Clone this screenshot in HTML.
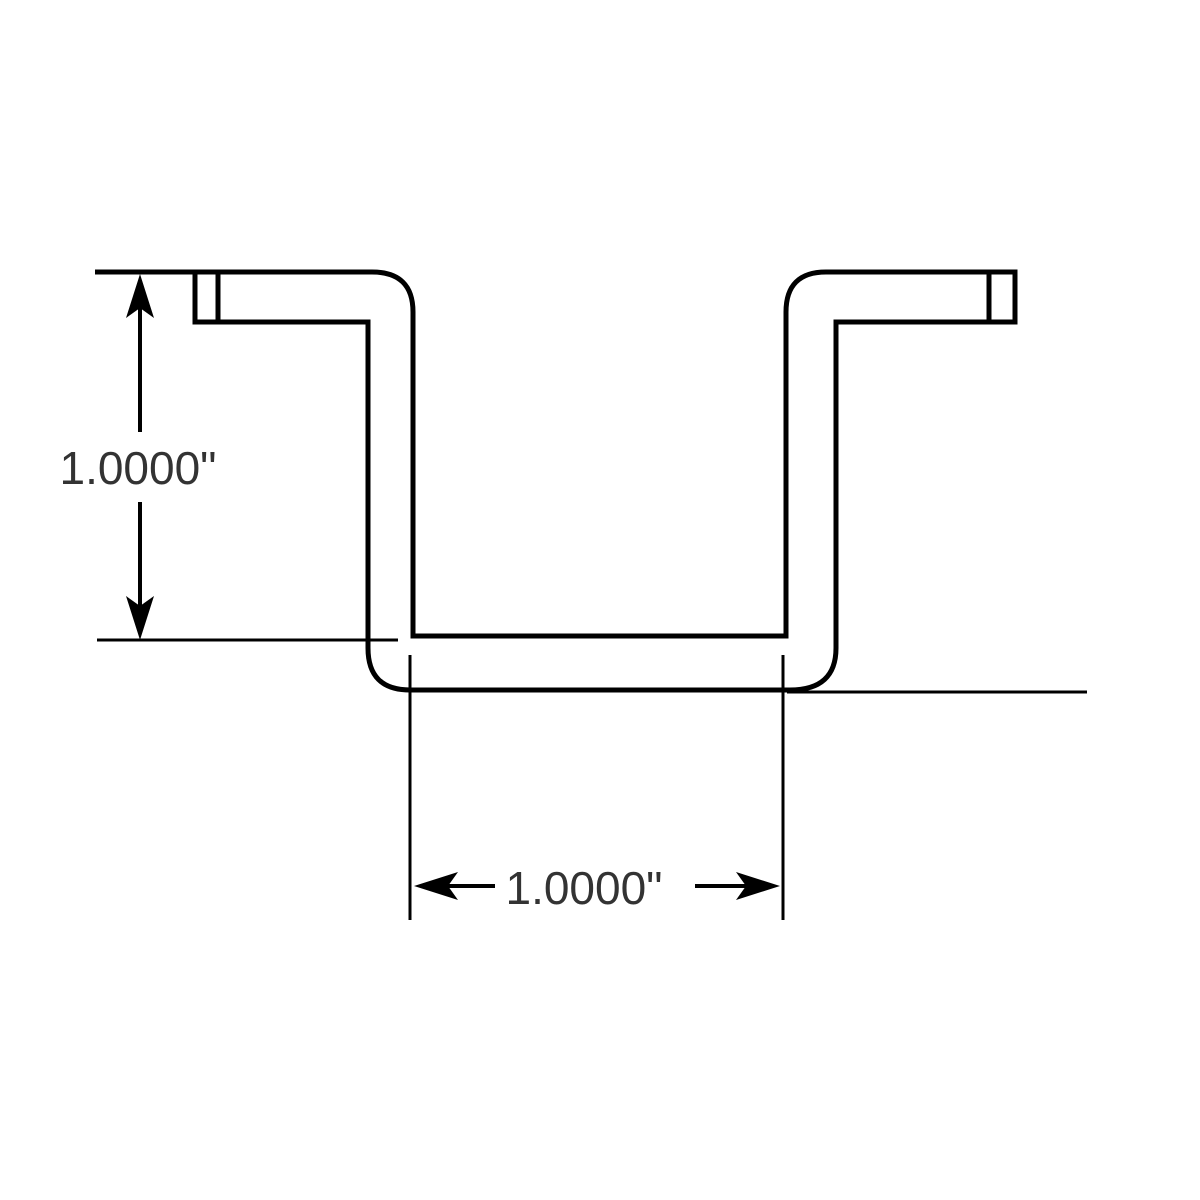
<!DOCTYPE html>
<html><head><style>body{margin:0;background:#fff}svg{display:block}</style></head><body>
<svg width="1200" height="1200" viewBox="0 0 1200 1200" xmlns="http://www.w3.org/2000/svg">
<g fill="none" stroke="#000" stroke-width="5">
<path d="M95 272 H372 Q413 272 413 312 V636 H786 V312 Q786 272 826 272 H1015 V322 H836 V648 Q836 690 790 690 H410 Q368 690 368 648 V322 H195 V272"/>
<path d="M218 272 V322 M989 272 V322"/>
</g>
<g stroke="#000" stroke-width="3" fill="none">
<path d="M97 640 H398"/>
<path d="M787 692 H1087"/>
<path d="M410 655 V920 M783 655 V920"/>
<path d="M140 292 V432 M140 502 V622" stroke-width="4"/>
<path d="M435 886 H495 M695 886 H762" stroke-width="4"/>
</g>
<g fill="#000">
<path d="M140 274 L126 318 L140 308 L154 318 Z"/>
<path d="M140 640 L126 596 L140 606 L154 596 Z"/>
<path d="M414 886 L458 872 L448 886 L458 900 Z"/>
<path d="M780 886 L736 872 L746 886 L736 900 Z"/>
</g>
<g font-family="Liberation Sans, sans-serif" font-size="46" fill="#333" text-anchor="middle">
<text x="138" y="484">1.0000"</text>
<text x="584" y="904">1.0000"</text>
</g>
</svg>
</body></html>
